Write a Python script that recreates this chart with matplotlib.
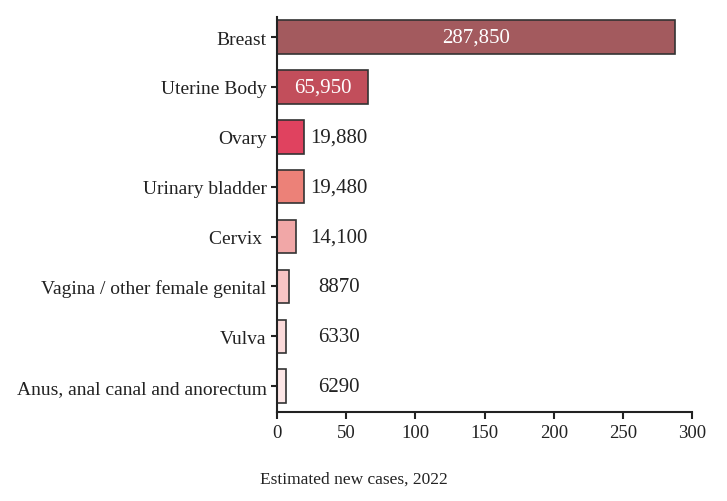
import matplotlib.pyplot as plt
import numpy as np

plt.rcParams['font.family'] = ['Liberation Serif', 'DejaVu Serif']

# data (thousands of estimated new cases, 2022)
sites = ['Breast', 'Uterine Body', 'Ovary', 'Urinary bladder', 'Cervix ',
         'Vagina / other female genital', 'Vulva', 'Anus, anal canal and anorectum']
cases = [287.85, 65.95, 19.88, 19.48, 14.10, 8.87, 6.33, 6.29]
labels = ['287,850', '65,950', '19,880', '19,480', '14,100', '8870', '6330', '6290']
colors = ['#a35a5e', '#c24e5b', '#e0425f', '#ec8178', '#f1a7a7', '#f8c5c5', '#fbdada', '#fde7e7']

fig = plt.figure(figsize=(7.27, 5.02), dpi=100)
ax = fig.add_axes([0.381, 0.177, 0.571, 0.787])

y = np.arange(len(sites))[::-1]
ax.barh(y, cases, height=0.67, color=colors, edgecolor='#333333', linewidth=1.2)

for yi, v, lab in zip(y, cases, labels):
    if v > 50:
        ax.text(v / 2, yi, lab, ha='center', va='center', color='white', fontsize=15)
    else:
        ax.text(45, yi, lab, ha='center', va='center', color='#222222', fontsize=15)

ax.set_yticks(y)
ax.set_yticklabels(sites, fontsize=14)
ax.set_xlim(0, 300)
ax.set_ylim(-0.52, 7.4)
ax.set_xticks(range(0, 301, 50))
ax.tick_params(axis='x', labelsize=13.5, length=5, width=1.5, colors='#222222')
ax.tick_params(axis='y', length=4, width=1.5, colors='#222222')
for s in ['top', 'right']:
    ax.spines[s].set_visible(False)
for s in ['left', 'bottom']:
    ax.spines[s].set_linewidth(1.5)
    ax.spines[s].set_color('#222222')

fig.text(260 / 727, 1 - 484 / 502, 'Estimated new cases, 2022', fontsize=12.5, color='#222222')

fig.savefig('out.png', dpi=100)
